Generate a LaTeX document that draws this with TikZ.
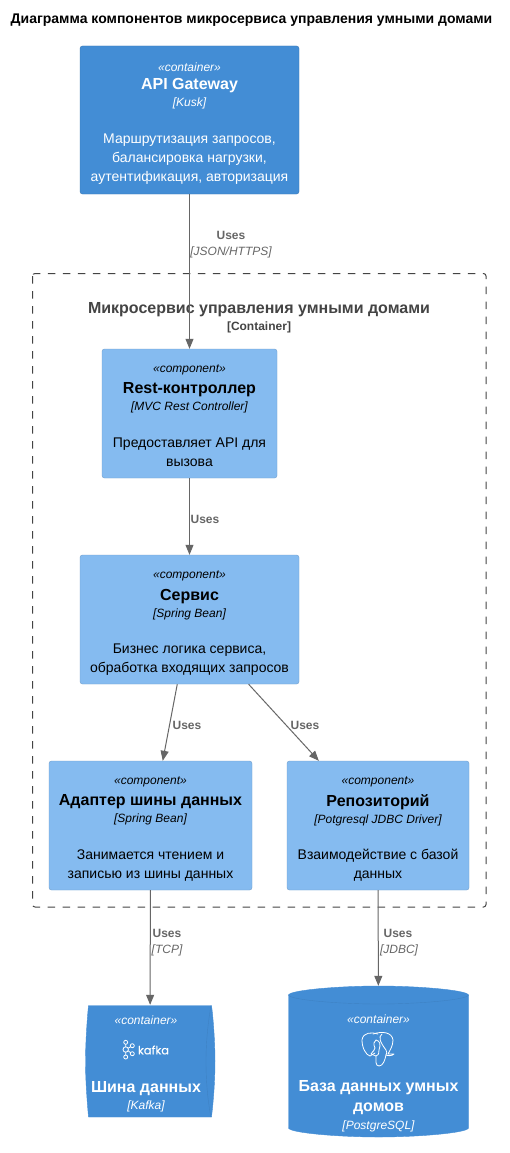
\documentclass[tikz,border=0pt]{standalone}
\usepackage{fontspec}
\setmainfont{Liberation Sans}
\newfontfamily\kafkafont[FakeBold=0.4]{Poppins}
\usetikzlibrary{arrows.meta}
\definecolor{darkblue}{HTML}{438DD5}
\definecolor{lightblue}{HTML}{85BBF0}
\definecolor{edgegray}{HTML}{666666}
\definecolor{titlegray}{HTML}{444444}
\newcommand{\fs}[1]{\fontsize{#1}{#1}\selectfont}
\newcommand{\dl}[1]{\fs{14}\rule[-3pt]{0pt}{14pt}#1}
\newcommand{\cardtext}[4]{{\fs{12}\itshape\rule{0pt}{15.4pt}«#1»}\\[6.5pt]{\fs{16}\bfseries #2}\\[4pt]{\fs{12}\itshape [#3]}\\[22pt]#4}
\tikzset{
  x=1pt,y=-1pt,
  card/.style={rectangle,rounded corners=2.5pt,align=center,inner sep=0pt,anchor=center},
  containercard/.style={card,fill=darkblue,draw=darkblue!85!black,line width=.4pt,text=white},
  componentcard/.style={card,fill=lightblue,draw=lightblue!85!black,line width=.4pt,text=black},
  flow/.style={draw=edgegray,line width=1pt,-{Triangle[length=10pt,width=8pt,fill=edgegray]}},
  uses/.style={text=edgegray,font=\fs{12}\bfseries,inner sep=0pt},
  tech/.style={text=edgegray,font=\fs{12}\itshape,inner sep=0pt},
  boundary/.style={draw=titlegray,line width=1pt,dash pattern=on 7.5pt off 7.5pt,rounded corners=2.5pt},
  logo/.style={draw=white,line width=.8pt,line cap=round,line join=round},
}
\begin{document}
\begin{tikzpicture}
\useasboundingbox (0,0) rectangle (510,1153);
\fill[white] (0,0) rectangle (510,1153);
\node[font=\fs{14}\bfseries,inner sep=0pt] (title) at (251.5,20) {Диаграмма компонентов микросервиса управления умными домами};
\draw[boundary] (32.5,273.5) rectangle (486,907);
\node[text=titlegray,font=\fs{16}\bfseries,inner sep=0pt] (bt) at (259,310) {Микросервис управления умными домами};
\node[text=titlegray,font=\fs{12}\bfseries,inner sep=0pt] (bs) at (259,327) {[Container]};

\node[containercard,minimum width=219pt,minimum height=148pt] (api) at (189.5,120) {\cardtext{container}{API Gateway}{Kusk}{\dl{Маршрутизация запросов,}\\[4pt]\dl{балансировка нагрузки,}\\[4pt]\dl{аутентификация, авторизация}}};
\node[componentcard,minimum width=175pt,minimum height=129pt] (rest) at (189.5,413.5) {\cardtext{component}{Rest-контроллер}{MVC Rest Controller}{\dl{Предоставляет API для}\\[4pt]\dl{вызова}}};
\node[componentcard,minimum width=219pt,minimum height=129pt] (svc) at (189.5,619.5) {\cardtext{component}{Сервис}{Spring Bean}{\dl{Бизнес логика сервиса,}\\[4pt]\dl{обработка входящих запросов}}};
\node[componentcard,minimum width=203pt,minimum height=129pt] (adapter) at (150.5,825.5) {\cardtext{component}{Адаптер шины данных}{Spring Bean}{\dl{Занимается чтением и}\\[4pt]\dl{записью из шины данных}}};
\node[componentcard,minimum width=182pt,minimum height=129pt] (repo) at (378,825.5) {\cardtext{component}{Репозиторий}{Potgresql JDBC Driver}{\dl{Взаимодействие с базой}\\[4pt]\dl{данных}}};

% queue
\draw[fill=darkblue,draw=darkblue] (88.5,1005.5) -- (211.5,1005.5) .. controls (213.5,1020) and (215,1045) .. (215,1061) .. controls (215,1080) and (213.5,1100) .. (211.5,1117) -- (88.5,1117) .. controls (87,1100) and (85.5,1080) .. (85.5,1061) .. controls (85.5,1045) and (87,1020) .. (88.5,1005.5) -- cycle;
\draw[draw=darkblue!92!black,line width=.4pt] (211,1005.5) .. controls (207.5,1025) and (206,1045) .. (206,1061) .. controls (206,1080) and (207.5,1100) .. (211,1117);
\node[inner sep=0pt,minimum width=128pt,minimum height=112pt] (kafka) at (150,1061) {};
\node[text=white,font=\fs{12}\itshape,inner sep=0pt] (k1) at (146,1020) {«container»};
\node[text=white,font=\fs{16}\bfseries,inner sep=0pt] (k2) at (146,1088.5) {Шина данных};
\node[text=white,font=\fs{12}\itshape,inner sep=0pt] (k3) at (146,1106) {[Kafka]};
\node[text=white,font=\fs{11.5}\kafkafont,inner sep=0pt] (k4) at (153.5,1050) {kafka};
\foreach \cx/\cy/\r in {125.7/1042.3/2,125.7/1049.5/2.7,125.7/1057/2,132.3/1045.7/2,132.3/1053.7/2}
  \draw[logo] (\cx,\cy) circle[radius=\r];
\draw[logo] (125.7,1044.3) -- (125.7,1046.8) (125.7,1052.2) -- (125.7,1055) (128.1,1048.3) -- (130.5,1046.8) (128.1,1050.7) -- (130.5,1052.6);

% database
\draw[fill=darkblue,draw=darkblue] (288.5,995) .. controls (290,990) and (340,986) .. (378.5,986) .. controls (417,986) and (467,990) .. (468.5,995) -- (468.5,1128) .. controls (467,1133) and (417,1137) .. (378.5,1137) .. controls (340,1137) and (290,1133) .. (288.5,1128) -- cycle;
\draw[draw=darkblue!92!black,line width=.4pt] (288.5,995) .. controls (290,1000) and (340,1004) .. (378.5,1004) .. controls (417,1004) and (467,1000) .. (468.5,995);
\node[inner sep=0pt,minimum width=181pt,minimum height=151pt] (db) at (378.5,1061.5) {};
\node[text=white,font=\fs{12}\itshape,inner sep=0pt] (d1) at (378.5,1019) {«container»};
\node[text=white,font=\fs{16}\bfseries,inner sep=0pt] (d2) at (378.5,1088) {База данных умных};
\node[text=white,font=\fs{16}\bfseries,inner sep=0pt] (d3) at (378.5,1109) {домов};
\node[text=white,font=\fs{12}\itshape,inner sep=0pt] (d4) at (378.5,1126) {[PostgreSQL]};
% elephant
\draw[logo] (378,1034) .. controls (372,1032) and (363,1032) .. (362,1040) .. controls (362,1048) and (366,1055) .. (370,1056) .. controls (372,1056) and (373,1053) .. (375,1053);
\draw[logo] (373,1034) .. controls (382,1031) and (392,1032) .. (393,1040) .. controls (393,1046) and (390,1050) .. (388,1054) -- (394,1054) .. controls (392,1056) and (388,1056) .. (386,1055) .. controls (385,1060) and (383,1066) .. (379,1066) .. controls (375,1066) and (376,1060) .. (376,1056) .. controls (375,1054) and (372,1056) .. (371,1054) .. controls (373,1051) and (375,1050) .. (375,1048) .. controls (373,1044) and (374,1041) .. (376,1040);
\draw[logo] (382,1034) .. controls (378,1037) and (380,1042) .. (386,1050) .. controls (387,1052) and (387,1053) .. (386,1055);
\draw[logo] (376,1040) .. controls (380,1041) and (381,1044) .. (379,1050) .. controls (378,1053) and (380,1054) .. (376,1056);

% connectors
\draw[flow] (api) -- (rest);
\draw[flow] (rest) -- (svc);
\draw[flow] (svc) -- (adapter);
\draw[flow] (svc) -- (repo);
\draw[flow] (adapter) -- (kafka);
\draw[flow] (repo) -- (db);

\node[uses] (l1) at (231,235) {Uses};
\node[tech] (l1t) at (231,252) {[JSON/HTTPS]};
\node[uses] (l2) at (205,519) {Uses};
\node[uses] (l3) at (187,725) {Uses};
\node[uses] (l4) at (305,725) {Uses};
\node[uses] (l5) at (167,933) {Uses};
\node[tech] (l5t) at (167,950) {[TCP]};
\node[uses] (l6) at (398,933) {Uses};
\node[tech] (l6t) at (399,950) {[JDBC]};
\end{tikzpicture}
\end{document}
